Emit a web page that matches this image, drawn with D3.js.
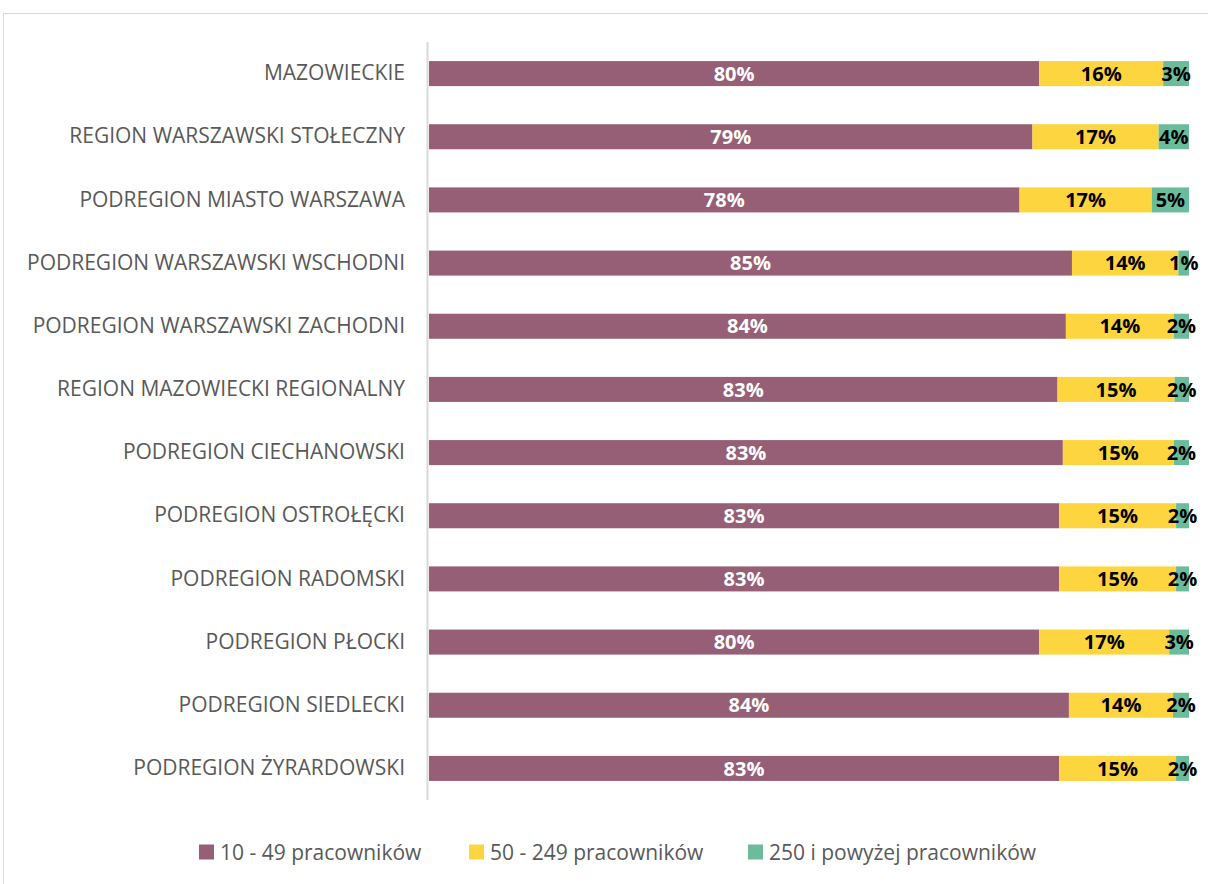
<!DOCTYPE html>
<html>
<head>
<meta charset="utf-8">
<script src="https://cdn.jsdelivr.net/npm/d3@7"></script>
<style>
  body { margin: 0; background: #fff; }
  .cat { font-family: "Open Sans", sans-serif; font-size: 21px; fill: #595959; }
  .val { font-family: "Open Sans", sans-serif; font-size: 20px; font-weight: bold; }
  .leg { font-family: "Open Sans", sans-serif; font-size: 21px; fill: #595959; }
</style>
</head>
<body>
<svg width="1208" height="884"></svg>
<script>
const categories = [
  'MAZOWIECKIE',
  'REGION WARSZAWSKI STOŁECZNY',
  'PODREGION MIASTO WARSZAWA',
  'PODREGION WARSZAWSKI WSCHODNI',
  'PODREGION WARSZAWSKI ZACHODNI',
  'REGION MAZOWIECKI REGIONALNY',
  'PODREGION CIECHANOWSKI',
  'PODREGION OSTROŁĘCKI',
  'PODREGION RADOMSKI',
  'PODREGION PŁOCKI',
  'PODREGION SIEDLECKI',
  'PODREGION ŻYRARDOWSKI'
];
const small = [80.3, 79.4, 77.7, 84.6, 83.8, 82.7, 83.4, 82.9, 82.9, 80.3, 84.2, 82.9];
const medium = [16.3, 16.6, 17.4, 14.0, 14.2, 15.4, 14.6, 15.4, 15.4, 17.1, 13.7, 15.4];
const large = [3.4, 4.0, 4.9, 1.4, 2.0, 1.9, 2.0, 1.7, 1.7, 2.6, 2.1, 1.7];
const seriesNames = ['10 - 49 pracowników', '50 - 249 pracowników', '250 i powyżej pracowników'];
const colors = ['#965f76', '#fdd53f', '#6abc9b'];
const labelColors = ['#ffffff', '#000000', '#000000'];

const svg = d3.select('svg');

// chart frame
svg.append('rect')
  .attr('x', 3.5).attr('y', 13.5)
  .attr('width', 1230).attr('height', 900)
  .attr('fill', 'none').attr('stroke', '#d9d9d9').attr('stroke-width', 1);

const keys = ['s0', 's1', 's2'];
const table = categories.map((c, i) => ({cat: c, s0: small[i], s1: medium[i], s2: large[i]}));
const stacked = d3.stack().keys(keys)(table);

const xScale = d3.scaleLinear().domain([0, 100]).range([429, 1189]);
const yScale = d3.scaleBand().domain(categories).range([42, 800]).paddingInner(0.604).paddingOuter(0.302);

// category axis
const yAxis = d3.axisLeft(yScale).tickSize(0).tickPadding(23);
const yAxisG = svg.append('g').attr('transform', 'translate(428,0)').call(yAxis);
yAxisG.select('.domain').remove();
yAxisG.selectAll('text').attr('class', 'cat').attr('fill', null).attr('font-family', null).attr('font-size', null);

svg.append('line')
  .attr('x1', 427.5).attr('x2', 427.5)
  .attr('y1', 42).attr('y2', 800)
  .attr('stroke', '#d9d9d9').attr('stroke-width', 2);

const layers = svg.selectAll('g.layer').data(stacked).join('g')
  .attr('class', 'layer')
  .attr('fill', (d, i) => colors[i]);

layers.selectAll('rect').data(d => d).join('rect')
  .attr('x', d => xScale(d[0]))
  .attr('width', d => xScale(d[1]) - xScale(d[0]))
  .attr('y', d => yScale(d.data.cat))
  .attr('height', yScale.bandwidth());

stacked.forEach((layer, i) => {
  svg.append('g').selectAll('text').data(layer).join('text')
    .attr('class', 'val')
    .attr('x', d => (xScale(d[0]) + xScale(d[1])) / 2)
    .attr('y', d => yScale(d.data.cat) + yScale.bandwidth() / 2)
    .attr('dy', '0.36em')
    .attr('text-anchor', 'middle')
    .attr('fill', labelColors[i])
    .text(d => Math.round(d[1] - d[0]) + '%');
});

// legend
const legendX = [199, 469, 748];
const legend = svg.append('g').selectAll('g').data(seriesNames).join('g')
  .attr('transform', (d, i) => `translate(${legendX[i]}, 852)`);
legend.append('rect')
  .attr('x', 0).attr('y', -7.5).attr('width', 15).attr('height', 15)
  .attr('fill', (d, i) => colors[i]);
legend.append('text')
  .attr('class', 'leg')
  .attr('x', 21).attr('dy', '0.36em')
  .text(d => d);
</script>
</body>
</html>
